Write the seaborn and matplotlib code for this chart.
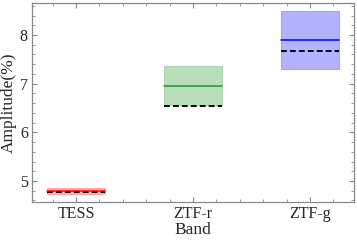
import numpy as np
import pandas as pd
import seaborn as sns
import matplotlib.pyplot as plt
from matplotlib.ticker import MultipleLocator

bands = ["TESS", "ZTF-r", "ZTF-g"]
amp_mean = [4.80, 6.96, 7.90]
amp_low = [4.74, 6.56, 7.31]
amp_high = [4.86, 7.37, 8.50]
amp_model = [4.77, 6.55, 7.67]

line_colors = ["#ff0000", "#1f9a1f", "#0000ff"]
fill_colors = ["#ff8080", "#8cc98c", "#8080ff"]
half_w = 0.25

sns.set_style("ticks")
plt.rcParams["font.family"] = ["Liberation Serif", "DejaVu Serif"]

fig = plt.figure(figsize=(3.57, 2.41), dpi=100)
ax = fig.add_axes([0.0896, 0.162, 0.902, 0.826])

rows = []
for i, b in enumerate(bands):
    for dx in (-half_w, half_w):
        rows.append({"band": b, "x": i + dx, "mean": amp_mean[i], "model": amp_model[i]})
df = pd.DataFrame(rows)

for i, b in enumerate(bands):
    sub = df[df["band"] == b]
    ax.fill_between(sub["x"], amp_low[i], amp_high[i], color=fill_colors[i],
                    alpha=0.6, linewidth=0.8, edgecolor=fill_colors[i], zorder=1)
    sns.lineplot(data=sub, x="x", y="model", ax=ax, color="black",
                 linestyle=(0, (3, 1.6)), linewidth=1.4, zorder=3)
    sns.lineplot(data=sub, x="x", y="mean", ax=ax, color=line_colors[i],
                 linewidth=1.1, zorder=4)

ax.set_xlim(-0.376, 2.376)
ax.set_ylim(4.57, 8.66)
ax.set_xticks(range(len(bands)))
ax.set_xticklabels(bands)
ax.set_yticks([5, 6, 7, 8])
ax.xaxis.set_minor_locator(MultipleLocator(0.2))
ax.yaxis.set_minor_locator(MultipleLocator(0.2))
ax.tick_params(which="both", direction="in", top=True, right=True,
               color="#888888", labelsize=11.5, pad=3)
ax.tick_params(which="major", length=3.5, width=0.8)
ax.tick_params(which="minor", length=2, width=0.6)
for s in ax.spines.values():
    s.set_color("#888888")
    s.set_linewidth(0.9)
ax.set_xlabel("Band", fontsize=12.5, labelpad=0)
ax.set_ylabel("Amplitude(%)", fontsize=12.5, labelpad=2)

fig.savefig("out.png", dpi=100)
